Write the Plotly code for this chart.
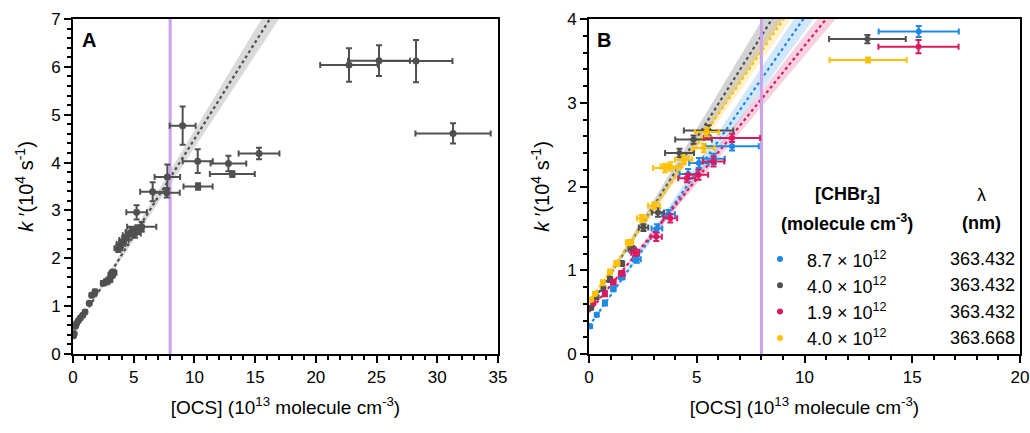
import plotly.graph_objects as go

# ---- panel A data (all data, one sample) ----
a_x = [0.05, 0.1, 0.2, 0.3, 0.45, 0.6, 0.8, 0.99, 1.34, 1.54, 1.81, 2.5, 2.77, 3.0, 3.18, 3.3,
       3.73, 3.95, 4.2, 4.5, 4.8, 5.1, 5.3, 5.66, 5.24, 6.56, 7.72, 7.77, 9.03, 10.27, 10.3,
       12.8, 13.12, 15.32, 22.73, 25.2, 28.25, 31.3]
a_y = [0.38, 0.43, 0.58, 0.64, 0.7, 0.75, 0.81, 0.88, 1.06, 1.23, 1.3, 1.48, 1.51, 1.55, 1.65, 1.7,
       2.21, 2.3, 2.38, 2.48, 2.55, 2.52, 2.6, 2.66, 2.96, 3.39, 3.37, 3.70, 4.77, 4.03, 3.50,
       3.98, 3.76, 4.19, 6.04, 6.13, 6.12, 4.61]
a_xerr = [0.01, 0.01, 0.02, 0.03, 0.04, 0.05, 0.07, 0.08, 0.1, 0.12, 0.14, 0.2, 0.22, 0.24, 0.26, 0.28,
          0.32, 0.35, 0.38, 0.4, 0.45, 0.48, 0.5, 1.2, 0.85, 1.03, 1.07, 1.05, 1.07, 1.24, 1.2,
          1.47, 1.85, 1.68, 2.37, 2.55, 3.0, 3.1]
a_yerr = [0.02, 0.02, 0.02, 0.02, 0.02, 0.03, 0.03, 0.03, 0.03, 0.04, 0.04, 0.04, 0.05, 0.05, 0.06, 0.06,
          0.08, 0.08, 0.08, 0.08, 0.09, 0.09, 0.09, 0.1, 0.15, 0.2, 0.1, 0.26, 0.4, 0.25, 0.07,
          0.16, 0.06, 0.12, 0.35, 0.32, 0.44, 0.21]
a_fit = [0.45, 0.404, 0.018]   # intercept, slope, slope uncertainty

# ---- panel B data (four CHBr3 concentrations) ----
b_names = ["8.7 × 10<sup>12</sup>", "4.0 × 10<sup>12</sup>", "1.9 × 10<sup>12</sup>", "4.0 × 10<sup>12</sup>"]
b_wavelength = ["363.432", "363.432", "363.432", "363.668"]
b_colors = ["#1E88E5", "#505050", "#D81B60", "#FFC107"]
b_bands = ["rgba(30,136,229,0.2)", "rgba(80,80,80,0.25)", "rgba(216,27,96,0.2)", "rgba(255,193,7,0.22)"]

blue_x = [0.05, 0.36, 0.74, 1.13, 1.52, 2.22, 3.15, 3.69, 4.6, 5.1, 5.8, 6.64, 15.3]
blue_y = [0.33, 0.47, 0.61, 0.78, 0.92, 1.13, 1.50, 1.67, 2.15, 2.28, 2.33, 2.48, 3.85]
blue_xerr = [0.01, 0.04, 0.08, 0.1, 0.13, 0.18, 0.25, 0.3, 0.4, 0.45, 0.5, 1.24, 1.86]
blue_yerr = [0.02, 0.02, 0.03, 0.03, 0.03, 0.04, 0.05, 0.05, 0.06, 0.06, 0.06, 0.05, 0.065]

gray_x = [0.1, 0.35, 0.67, 0.98, 1.5, 2.0, 2.53, 3.2, 4.2, 4.85, 5.55, 12.92]
gray_y = [0.55, 0.68, 0.78, 0.89, 1.08, 1.25, 1.51, 1.69, 2.40, 2.56, 2.67, 3.76]
gray_xerr = [0.01, 0.03, 0.06, 0.09, 0.13, 0.17, 0.22, 0.28, 0.67, 0.85, 1.15, 1.78]
gray_yerr = [0.02, 0.02, 0.03, 0.03, 0.03, 0.04, 0.04, 0.05, 0.05, 0.05, 0.06, 0.05]

magenta_x = [0.2, 0.74, 1.13, 1.52, 2.14, 3.12, 3.77, 4.54, 5.08, 5.78, 6.64, 15.29]
magenta_y = [0.61, 0.72, 0.86, 0.96, 1.21, 1.40, 1.62, 2.10, 2.14, 2.30, 2.58, 3.67]
magenta_xerr = [0.02, 0.07, 0.1, 0.13, 0.18, 0.26, 0.32, 0.4, 0.45, 0.5, 1.3, 1.86]
magenta_yerr = [0.02, 0.03, 0.03, 0.03, 0.04, 0.05, 0.05, 0.05, 0.06, 0.06, 0.05, 0.08]

yellow_x = [0.1, 0.28, 0.64, 0.98, 1.29, 1.88, 2.45, 3.02, 3.53, 3.77, 4.39, 5.32, 5.47, 12.95]
yellow_y = [0.65, 0.72, 0.85, 0.98, 1.08, 1.33, 1.62, 1.77, 2.22, 2.24, 2.32, 2.46, 2.65, 3.51]
yellow_xerr = [0.01, 0.03, 0.06, 0.09, 0.12, 0.17, 0.22, 0.28, 0.55, 0.45, 0.4, 0.5, 0.55, 1.79]
yellow_yerr = [0.02, 0.02, 0.03, 0.03, 0.03, 0.03, 0.04, 0.04, 0.05, 0.05, 0.05, 0.05, 0.05, 0.03]

b_intercepts = [0.33, 0.55, 0.50, 0.62]
b_slopes = [0.369, 0.406, 0.318, 0.374]
b_slope_err = [0.017, 0.022, 0.012, 0.014]

cutoff = 8  # [OCS] limit used for fits

FONT = "Liberation Sans, Arial, sans-serif"
W, H = 1030, 433

fig = go.Figure()


def add_fit(xa, ya, b, m, dm, color, band, xmax):
    xs = [0, xmax]
    fig.add_trace(go.Scatter(
        x=[0, xmax, xmax, 0], y=[b, b + (m + dm) * xmax, b + (m - dm) * xmax, b],
        fill="toself", fillcolor=band, line=dict(width=0), mode="lines",
        hoverinfo="skip", showlegend=False, xaxis=xa, yaxis=ya))
    fig.add_trace(go.Scatter(
        x=xs, y=[b, b + m * xmax], mode="lines",
        line=dict(color=color, width=2.2, dash="dot"),
        showlegend=False, xaxis=xa, yaxis=ya))


# panel A
add_fit("x", "y", a_fit[0], a_fit[1], a_fit[2], "#505050", "rgba(150,150,150,0.35)", 20)
fig.add_trace(go.Scatter(x=[cutoff, cutoff], y=[0, 7], mode="lines",
                         line=dict(color="#C9A3EC", width=3), showlegend=False))
fig.add_trace(go.Scatter(
    x=a_x, y=a_y, mode="markers", marker=dict(color="#505050", size=7),
    error_x=dict(type="data", array=a_xerr, color="#505050", thickness=2, width=3),
    error_y=dict(type="data", array=a_yerr, color="#505050", thickness=2, width=3),
    showlegend=False))

# panel B
series = [(blue_x, blue_y, blue_xerr, blue_yerr), (gray_x, gray_y, gray_xerr, gray_yerr),
          (magenta_x, magenta_y, magenta_xerr, magenta_yerr),
          (yellow_x, yellow_y, yellow_xerr, yellow_yerr)]
for i in [1, 3, 0, 2]:
    add_fit("x2", "y2", b_intercepts[i], b_slopes[i], b_slope_err[i], b_colors[i], b_bands[i], 14)
fig.add_trace(go.Scatter(x=[cutoff, cutoff], y=[0, 4], mode="lines", xaxis="x2", yaxis="y2",
                         line=dict(color="#C9A3EC", width=3), showlegend=False))
for i in [0, 1, 2, 3]:
    sx, sy, sxe, sye = series[i]
    fig.add_trace(go.Scatter(
        x=sx, y=sy, mode="markers", xaxis="x2", yaxis="y2",
        marker=dict(color=b_colors[i], size=6),
        error_x=dict(type="data", array=sxe, color=b_colors[i], thickness=2, width=3),
        error_y=dict(type="data", array=sye, color=b_colors[i], thickness=2, width=3),
        showlegend=False))

axis_common = dict(showgrid=False, zeroline=False, showline=True, linecolor="black", linewidth=2,
                   mirror=True, ticks="outside", ticklen=7, tickwidth=2, tickcolor="black",
                   automargin=False,
                   tickfont=dict(size=17, color="black", family=FONT))
xtitle = dict(text="[OCS] (10<sup>13</sup> molecule cm<sup>-3</sup>)", standoff=14,
              font=dict(size=19, color="black", family=FONT))
ytitle = dict(text="<i>k</i> ′(10<sup>4</sup> s<sup>-1</sup>)", standoff=12,
              font=dict(size=20, color="black", family=FONT))

fig.update_layout(
    width=W, height=H, margin=dict(l=0, r=0, t=0, b=0, autoexpand=False),
    plot_bgcolor="white", paper_bgcolor="white",
    font=dict(family=FONT, color="black"),
    xaxis=dict(domain=[73 / W, 498 / W], range=[0, 35], dtick=5, title=xtitle,
               minor=dict(dtick=1, ticks="outside", ticklen=4, tickwidth=1.5, tickcolor="black"),
               **axis_common),
    yaxis=dict(domain=[1 - 354 / H, 1 - 19 / H], range=[0, 7], dtick=1, title=ytitle,
               minor=dict(dtick=0.2, ticks="outside", ticklen=4, tickwidth=1.5, tickcolor="black"),
               **axis_common),
    xaxis2=dict(domain=[589 / W, 1020 / W], range=[0, 20], dtick=5, title=xtitle, anchor="y2",
                minor=dict(dtick=1, ticks="outside", ticklen=4, tickwidth=1.5, tickcolor="black"),
                **axis_common),
    yaxis2=dict(domain=[1 - 354 / H, 1 - 19 / H], range=[0, 4], dtick=1, title=ytitle, anchor="x2",
                minor=dict(dtick=0.2, ticks="outside", ticklen=4, tickwidth=1.5, tickcolor="black"),
                **axis_common),
)

ann = []
ann.append(dict(x=89 / W, y=1 - 40 / H, text="<b>A</b>", xanchor="center", font=dict(size=20)))
ann.append(dict(x=604 / W, y=1 - 40 / H, text="<b>B</b>", xanchor="center", font=dict(size=20)))
ann.append(dict(x=847 / W, y=1 - 195 / H, text="<b>[CHBr<sub>3</sub>]</b>", xanchor="center", font=dict(size=18)))
ann.append(dict(x=847 / W, y=1 - 223 / H, text="<b>(molecule cm<sup>-3</sup>)</b>", xanchor="center", font=dict(size=18)))
ann.append(dict(x=981 / W, y=1 - 195 / H, text="λ", xanchor="center", font=dict(size=18)))
ann.append(dict(x=981 / W, y=1 - 223 / H, text="<b>(nm)</b>", xanchor="center", font=dict(size=18)))
shapes = []
for i in range(4):
    yrow = 1 - (259 + 26.3 * i) / H
    ann.append(dict(x=805 / W, y=yrow, text=b_names[i], xanchor="left", font=dict(size=18)))
    ann.append(dict(x=1017 / W, y=yrow, text=b_wavelength[i], xanchor="right", font=dict(size=18)))
    shapes.append(dict(type="circle", xref="paper", yref="paper", xsizemode="pixel", ysizemode="pixel",
                       xanchor=780 / W, yanchor=yrow, x0=-3, x1=3, y0=-3, y1=3,
                       fillcolor=b_colors[i], line=dict(width=0)))
for a in ann:
    a.update(xref="paper", yref="paper", showarrow=False, yanchor="middle")
    a.setdefault("xanchor", "left")
    a["font"].update(family=FONT, color="black")
fig.update_layout(annotations=ann, shapes=shapes)

# page body has a default margin; drop it so the figure sits at the window's corner
fig.write_html("out.html", config={"displayModeBar": False},
               post_script="document.body.style.margin='0';")
